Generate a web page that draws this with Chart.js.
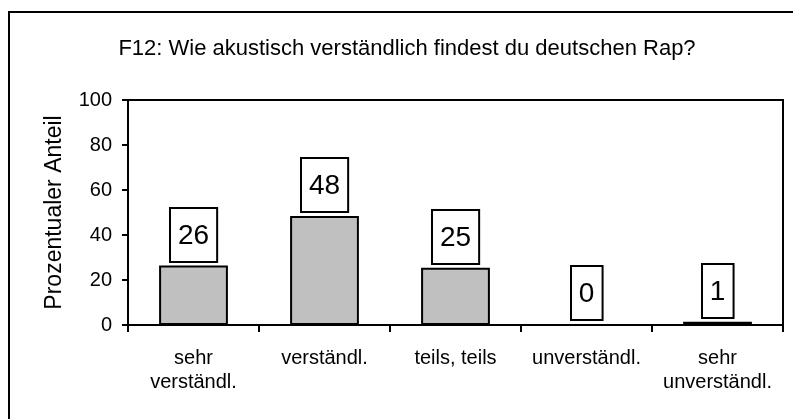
<!DOCTYPE html>
<html>
<head>
<meta charset="utf-8">
<script src="https://cdn.jsdelivr.net/npm/chart.js@4/dist/chart.umd.min.js"></script>
<style>
  html, body { margin: 0; padding: 0; background: #fff; overflow: hidden; }
  #wrap { width: 793px; height: 419px; }
</style>
</head>
<body>
<div id="wrap"><canvas id="chart" width="793" height="419"></canvas></div>
<script>
// Daten
var categories = [['sehr', 'verständl.'], 'verständl.', 'teils, teils', 'unverständl.', ['sehr', 'unverständl.']];
var values = [26, 48, 25, 0, 1];
var yTicks = [0, 20, 40, 60, 80, 100];
var titleText = 'F12: Wie akustisch verständlich findest du deutschen Rap?';
var yTitle = 'Prozentualer Anteil';

var FONT = "'Liberation Sans', Arial, sans-serif";

/** Rahmen um die ganze Grafik */
var framePlugin = {
    id: 'frame',
    beforeDraw: function (chart) {
        var ctx = chart.ctx;
        ctx.save();
        ctx.fillStyle = '#fff';
        ctx.fillRect(0, 0, chart.width, chart.height);
        ctx.strokeStyle = '#000';
        ctx.lineWidth = 2;
        ctx.strokeRect(9, 12, chart.width + 20, chart.height + 20);
        ctx.restore();
    }
};

/** obere und rechte Linie der Zeichenfläche */
var plotBorder = {
    id: 'plotBorder',
    afterDraw: function (chart) {
        var a = chart.chartArea, ctx = chart.ctx;
        ctx.save();
        ctx.strokeStyle = '#000';
        ctx.lineWidth = 2;
        ctx.beginPath();
        ctx.moveTo(a.left, a.top);
        ctx.lineTo(a.right, a.top);
        ctx.lineTo(a.right, a.bottom);
        ctx.stroke();
        ctx.restore();
    }
};

/** Balkenumriss + Werte in Kästchen über den Balken */
var valueBoxes = {
    id: 'valueBoxes',
    afterDatasetsDraw: function (chart) {
        var ctx = chart.ctx;
        var meta = chart.getDatasetMeta(0);
        ctx.save();
        // Umriss (auch bei sehr flachen Balken sichtbar)
        ctx.strokeStyle = '#000';
        ctx.lineWidth = 2;
        meta.data.forEach(function (bar, i) {
            if (values[i] <= 0) return;
            ctx.strokeRect(bar.x - bar.width / 2, bar.y, bar.width, bar.base - bar.y);
        });
        ctx.font = '28px ' + FONT;
        ctx.textAlign = 'center';
        ctx.textBaseline = 'middle';
        meta.data.forEach(function (bar, i) {
            var txt = String(values[i]);
            var w = ctx.measureText(txt).width + 16;
            var h = 54;
            var bottom = bar.y - 5;
            var x = Math.round(bar.x - w / 2);
            var y = Math.round(bottom - h);
            ctx.fillStyle = '#fff';
            ctx.fillRect(x, y, w, h);
            ctx.strokeStyle = '#000';
            ctx.lineWidth = 2;
            ctx.strokeRect(x, y, w, h);
            ctx.fillStyle = '#000';
            ctx.fillText(txt, bar.x, y + h / 2 + 1);
        });
        ctx.restore();
    }
};

var ctx = document.getElementById('chart').getContext('2d');
var chart = new Chart(ctx, {
    type: 'bar',
    data: {
        labels: categories,
        datasets: [{
            data: values,
            backgroundColor: '#c0c0c0',
            borderWidth: 0,
            categoryPercentage: 1,
            barPercentage: 0.51
        }]
    },
    options: {
        responsive: false,
        animation: false,
        events: [],
        layout: { padding: { left: 31, right: 10, top: 0, bottom: 0 } },
        plugins: {
            legend: { display: false },
            tooltip: { enabled: false },
            title: {
                display: true,
                text: titleText,
                color: '#000',
                font: { family: FONT, size: 22, weight: 'normal', lineHeight: 1.2 },
                padding: { top: 36, bottom: 37.6 }
            }
        },
        scales: {
            x: {
                afterFit: function (s) { s.height = 94; },
                border: { display: true, color: '#000', width: 2 },
                grid: { display: true, drawOnChartArea: false, drawTicks: true, tickLength: 7, color: '#000', lineWidth: 2, offset: true },
                ticks: {
                    color: '#000',
                    padding: 15,
                    maxRotation: 0,
                    autoSkip: false,
                    font: { family: FONT, size: 20, lineHeight: 1.17 }
                }
            },
            y: {
                min: 0,
                max: 100,
                afterFit: function (s) { s.width = 97; },
                afterBuildTicks: function (s) {
                    s.ticks = yTicks.map(function (v) { return { value: v }; });
                },
                border: { display: true, color: '#000', width: 2 },
                grid: { display: true, drawOnChartArea: false, drawTicks: true, tickLength: 6, color: '#000', lineWidth: 2 },
                ticks: {
                    color: '#000',
                    padding: 10,
                    font: { family: FONT, size: 20 }
                },
                title: {
                    display: true,
                    text: yTitle,
                    color: '#000',
                    font: { family: FONT, size: 23, lineHeight: 1.2 },
                    padding: { top: 10, bottom: 0 }
                }
            }
        }
    },
    plugins: [framePlugin, plotBorder, valueBoxes]
});
</script>
</body>
</html>
